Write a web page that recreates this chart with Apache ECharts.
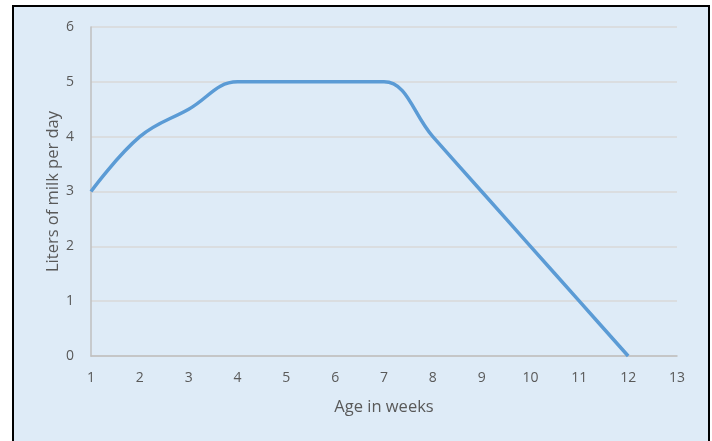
<!DOCTYPE html>
<html>
<head>
<meta charset="utf-8">
<script src="https://cdn.jsdelivr.net/npm/echarts@6/dist/echarts.min.js"></script>
<style>
html,body{margin:0;padding:0;background:#fff;}
#frame{position:absolute;left:12px;top:5px;width:694px;height:450px;background:#DEEBF7;border-left:2px solid #000;border-top:2px solid #000;border-right:2px solid #000;}
#chart{position:absolute;left:0;top:0;width:712px;height:441px;}
</style>
</head>
<body>
<div id="frame"></div>
<div id="chart"></div>
<script>
const weeks = [1, 2, 3, 4, 5, 6, 7, 8, 9, 10, 11, 12];
const litersPerDay = [3, 4, 4.5, 5, 5, 5, 5, 4, 3, 2, 1, 0];
const xTitle = 'Age in weeks';
const yTitle = 'Liters of milk per day';

const chart = echarts.init(document.getElementById('chart'), null, {renderer: 'canvas'});
const font = '"Open Sans", "Noto Sans", sans-serif';
chart.setOption({
  backgroundColor: 'transparent',
  animation: false,
  grid: {left: 91, right: 35, top: 27, bottom: 85, containLabel: false},
  xAxis: {
    type: 'value', min: 1, max: 13, interval: 1,
    name: xTitle, nameLocation: 'middle', nameGap: 43,
    nameTextStyle: {color: '#595959', fontSize: 16.5, fontFamily: font},
    axisLine: {show: true, lineStyle: {color: '#BFBFBF', width: 1.5}},
    axisTick: {show: false},
    axisLabel: {color: '#595959', fontSize: 14, fontFamily: font, margin: 15},
    splitLine: {show: false}
  },
  yAxis: {
    type: 'value', min: 0, max: 6, interval: 1,
    name: yTitle, nameLocation: 'middle', nameGap: 29, nameMoveOverlap: false,
    nameTextStyle: {color: '#595959', fontSize: 16.5, fontFamily: font},
    axisLine: {show: true, lineStyle: {color: '#BFBFBF', width: 1.5}},
    axisTick: {show: false},
    axisLabel: {color: '#595959', fontSize: 14, fontFamily: font, margin: 17},
    splitLine: {show: true, lineStyle: {color: '#D9D9D9', width: 1.5}}
  },
  series: [{
    type: 'line',
    data: weeks.map((w, i) => [w, litersPerDay[i]]),
    smooth: 0.4,
    showSymbol: false,
    lineStyle: {color: '#5B9BD5', width: 3.5},
    itemStyle: {color: '#5B9BD5'}
  }]
});
</script>
</body>
</html>
